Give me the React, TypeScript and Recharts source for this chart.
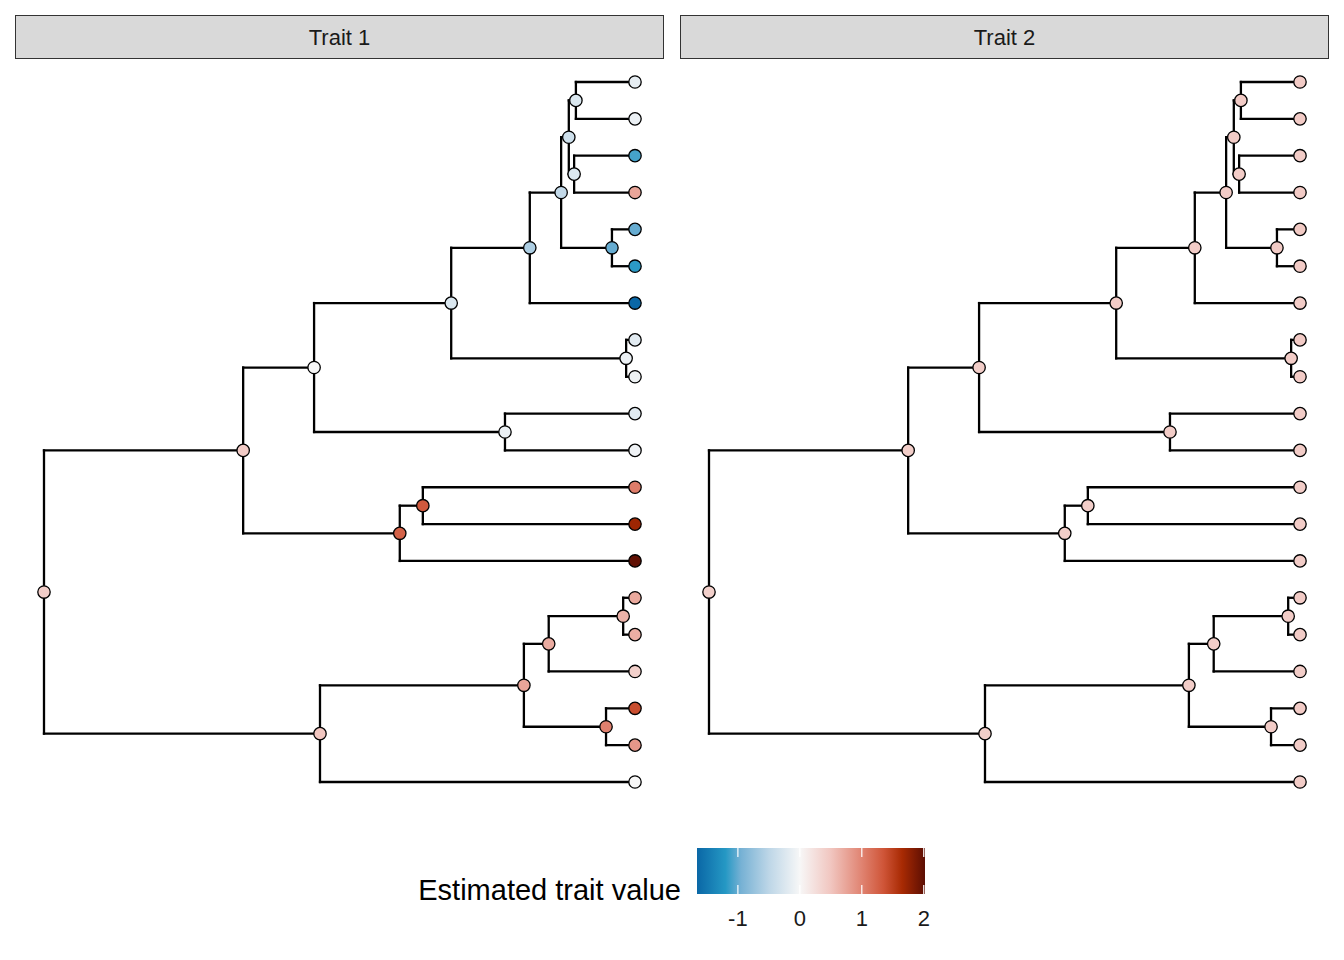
import { ComposedChart, Scatter, XAxis, YAxis, ReferenceLine, BarChart, Bar } from 'recharts'

// tips listed top to bottom
const tipIds = ['t1', 't2', 't3', 't4', 't5', 't6', 't7', 't8', 't9', 't10', 't11', 't12', 't13', 't14', 't15', 't16', 't17', 't18', 't19', 't20']

// internal nodes, their depth from the root (root = 0, tips = 1) and their children
const nodeIds = ['root', 'A', 'C', 'E', 'G', 'I', 'J', 'L', 'M', 'K', 'H', 'F', 'D', 'N', 'B', 'O', 'P', 'R', 'Q']
const nodeDepth = [0, 0.337, 0.457, 0.689, 0.822, 0.875, 0.888, 0.9, 0.897, 0.961, 0.985, 0.78, 0.602, 0.641, 0.467, 0.812, 0.854, 0.98, 0.951]
const nodeKids = [
  ['A', 'B'], ['C', 'D'], ['E', 'F'], ['G', 'H'], ['I', 't7'], ['J', 'K'], ['L', 'M'],
  ['t1', 't2'], ['t3', 't4'], ['t5', 't6'], ['t8', 't9'], ['t10', 't11'], ['N', 't14'],
  ['t12', 't13'], ['O', 't20'], ['P', 'Q'], ['R', 't17'], ['t15', 't16'], ['t18', 't19'],
]

// estimated trait values
const tipTrait1 = [-0.15, -0.1, -1.1, 0.75, -1.0, -1.18, -1.66, -0.18, -0.08, -0.2, -0.07, 1.05, 1.7, 2.0, 0.72, 0.68, 0.4, 1.4, 0.85, 0.0]
const nodeTrait1 = [0.42, 0.45, 0.0, -0.25, -0.6, -0.45, -0.35, -0.25, -0.25, -1.0, -0.1, -0.1, 1.25, 1.32, 0.5, 0.75, 0.7, 0.65, 1.02]
const tipTrait2 = [0.45, 0.45, 0.44, 0.45, 0.46, 0.45, 0.44, 0.45, 0.45, 0.44, 0.44, 0.43, 0.44, 0.44, 0.45, 0.44, 0.43, 0.45, 0.44, 0.44]
const nodeTrait2 = [0.4, 0.42, 0.43, 0.44, 0.44, 0.44, 0.44, 0.45, 0.44, 0.45, 0.44, 0.44, 0.42, 0.42, 0.42, 0.43, 0.43, 0.44, 0.44]

const scaleLimits = [-1.66, 2.02]
const legendTicks = [-1, 0, 1, 2]
const colourStops: [number, string][] = [
  [-1.66, '#0a67a6'],
  [-1.2, '#2598c4'],
  [-0.95, '#76b1d4'],
  [-0.5, '#bdd6e7'],
  [0, '#f7f7f7'],
  [0.5, '#f1c6c0'],
  [1.0, '#e08371'],
  [1.35, '#cf5538'],
  [1.65, '#a82a03'],
  [2.02, '#5c0e03'],
]

const FONT = '"Liberation Sans", Arial, Helvetica, sans-serif'

const rgb = (h: string) => [1, 3, 5].map((i) => parseInt(h.slice(i, i + 2), 16))

function traitColour(v: number) {
  const c = Math.max(colourStops[0][0], Math.min(colourStops[colourStops.length - 1][0], v))
  for (let i = 0; i < colourStops.length - 1; i++) {
    const [v0, h0] = colourStops[i]
    const [v1, h1] = colourStops[i + 1]
    if (c <= v1) {
      const t = (c - v0) / (v1 - v0)
      const a = rgb(h0)
      const b = rgb(h1)
      return `rgb(${a.map((x, k) => Math.round(x + (b[k] - x) * t)).join(',')})`
    }
  }
  return colourStops[colourStops.length - 1][1]
}

// rectangular layout: tips at depth 1, internal node y = mean of its children
const pos: Record<string, { x: number; y: number }> = {}
tipIds.forEach((id, i) => {
  pos[id] = { x: 1, y: i + 1 }
})
const place = (id: string): number => {
  if (pos[id]) return pos[id].y
  const k = nodeIds.indexOf(id)
  const ys = nodeKids[k].map(place)
  pos[id] = { x: nodeDepth[k], y: ys.reduce((s, y) => s + y, 0) / ys.length }
  return pos[id].y
}
place('root')

const edges: { x: number; y: number }[][] = []
nodeIds.forEach((id, k) => {
  const p = pos[id]
  const ys = nodeKids[k].map((c) => pos[c].y)
  edges.push([{ x: p.x, y: Math.min(...ys) }, { x: p.x, y: Math.max(...ys) }])
  nodeKids[k].forEach((c) => edges.push([{ x: p.x, y: pos[c].y }, { x: pos[c].x, y: pos[c].y }]))
})

const Dot = (props: any) => (
  <circle cx={props.cx} cy={props.cy} r={6.2} fill={traitColour(props.payload.v)} stroke="#000" strokeWidth={1.3} />
)

function TreePanel({ title, tipValues, nodeValues, left }: any) {
  const points = [
    ...tipIds.map((id, i) => ({ x: pos[id].x, y: pos[id].y, v: tipValues[i] })),
    ...nodeIds.map((id, i) => ({ x: pos[id].x, y: pos[id].y, v: nodeValues[i] })),
  ]
  return (
    <div style={{ position: 'absolute', left, top: 15, width: 649 }}>
      <div
        style={{
          height: 44,
          boxSizing: 'border-box',
          background: '#d9d9d9',
          border: '1px solid #333',
          display: 'flex',
          alignItems: 'center',
          justifyContent: 'center',
          paddingTop: 2,
          fontFamily: FONT,
          fontSize: 22,
          color: '#1a1a1a',
        }}
      >
        {title}
      </div>
      <ComposedChart width={649} height={760} margin={{ top: 23, right: 29, bottom: 37, left: 29 }}>
        <XAxis type="number" dataKey="x" domain={[0, 1]} hide />
        <YAxis type="number" dataKey="y" domain={[1, 20]} reversed hide />
        {edges.map((seg, i) => (
          <ReferenceLine key={i} segment={seg} stroke="#000" strokeWidth={2.3} strokeLinecap="square" ifOverflow="visible" />
        ))}
        <Scatter data={points} shape={Dot} isAnimationActive={false} />
      </ComposedChart>
    </div>
  )
}

const legendData = [{ name: 'scale', span: scaleLimits }]

const LegendTick = ({ x, y, payload }: any) => (
  <text x={x} y={y + 24} textAnchor="middle" fontFamily={FONT} fontSize={22} fill="#1a1a1a">
    {payload.value}
  </text>
)

export default function App() {
  const [lo, hi] = scaleLimits
  return (
    <div style={{ position: 'relative', width: 1344, height: 960, background: '#fff' }}>
      <style>{'body{margin:0}'}</style>
      <TreePanel title="Trait 1" tipValues={tipTrait1} nodeValues={nodeTrait1} left={15} />
      <TreePanel title="Trait 2" tipValues={tipTrait2} nodeValues={nodeTrait2} left={680} />
      <div
        style={{
          position: 'absolute',
          right: 1344 - 681,
          top: 870,
          fontFamily: FONT,
          fontSize: 29,
          color: '#000',
          whiteSpace: 'nowrap',
          lineHeight: '40px',
        }}
      >
        Estimated trait value
      </div>
      <div style={{ position: 'absolute', left: 680, top: 848 }}>
        <BarChart width={262} height={93} layout="vertical" data={legendData} barCategoryGap={0} margin={{ top: 0, right: 17, bottom: 0, left: 17 }}>
          <defs>
            <linearGradient id="traitGrad" x1="0" y1="0" x2="1" y2="0">
              {colourStops.map(([v, c]) => (
                <stop key={v} offset={(v - lo) / (hi - lo)} stopColor={c} />
              ))}
            </linearGradient>
          </defs>
          <XAxis type="number" domain={scaleLimits} ticks={legendTicks} allowDataOverflow axisLine={false} tickLine={false} height={47} tick={LegendTick} interval={0} />
          <YAxis type="category" dataKey="name" hide />
          <Bar dataKey="span" fill="url(#traitGrad)" isAnimationActive={false} />
          {legendTicks.map((t) => (
            <ReferenceLine key={t} x={t} stroke="#fff" strokeWidth={1.2} strokeDasharray="9 28 9" />
          ))}
        </BarChart>
      </div>
    </div>
  )
}
